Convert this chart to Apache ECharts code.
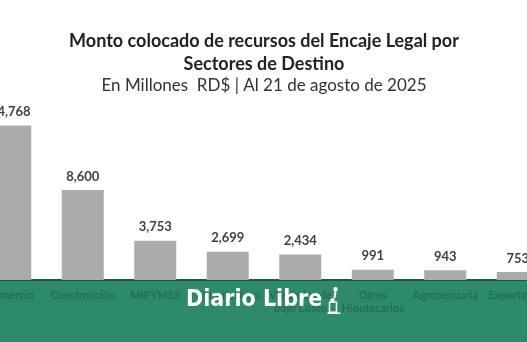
<!DOCTYPE html>
<html><head><meta charset="utf-8">
<script src="https://cdn.jsdelivr.net/npm/echarts@6/dist/echarts.min.js"></script>
<style>html,body{margin:0;padding:0;background:#fff;overflow:hidden;width:527px;height:342px;position:relative}
#c{width:580px;height:342px;position:absolute;left:-26px;top:0}</style>
</head><body><div id="c"></div>
<script>
const categories = ['Comercio','Construcción','MIPYMES','Manufactura','Viviendas de\nBajo Costo','Otros\nHipotecarios','Agropecuaria','Exportación'];
const values = [14768, 8600, 3753, 2699, 2434, 991, 943, 753];
const titleText = 'Monto colocado de recursos del Encaje Legal por\nSectores de Destino';
const subtitleText = 'En Millones  RD$ | Al 21 de agosto de 2025';
const logoText = 'Diario Libre';

const OFF = 26; // page-to-div x offset
const chart = echarts.init(document.getElementById('c'));
chart.setOption({
  animation: false,
  backgroundColor: '#fff',
  title: {
    left: 'center', top: 25, itemGap: 0,
    text: titleText,
    textStyle: {fontFamily: 'Lato', fontWeight: 'bold', fontSize: 18, color: '#222', lineHeight: 23},
    subtext: subtitleText,
    subtextStyle: {fontFamily: 'Lato', fontSize: 17, color: '#333', lineHeight: 20}
  },
  grid: {left: 0, right: 0, top: 123, bottom: 62, containLabel: false},
  xAxis: {
    type: 'category', data: categories,
    axisLine: {lineStyle: {color: '#1d5a45', width: 2}},
    axisTick: {show: false},
    axisLabel: {margin: 9, interval: 0, fontFamily: 'Lato', fontWeight: 'bold', fontSize: 11, color: '#226f51', lineHeight: 13}
  },
  yAxis: {type: 'value', min: 0, max: 15000, show: false, splitLine: {show: false}},
  graphic: [
    {type: 'rect', z: -10, silent: true, shape: {x: 0, y: 281, width: 580, height: 61}, style: {fill: '#2e8b6a'}},
    {type: 'text', z: 100, left: 186 + OFF, top: 289, style: {text: logoText, fill: '#fff', font: 'bold 23px "DejaVu Sans Condensed", "DejaVu Sans", sans-serif'}},
    {type: 'group', z: 100, left: 325 + OFF, top: 287, children: [
      {type: 'circle', shape: {cx: 8, cy: 3, r: 2.2}, style: {fill: '#fff'}},
      {type: 'line', shape: {x1: 8, y1: 5, x2: 7, y2: 12}, style: {stroke: '#fff', lineWidth: 2}},
      {type: 'circle', shape: {cx: 5, cy: 14, r: 2.2}, style: {fill: '#fff'}},
      {type: 'rect', shape: {x: 2, y: 16, width: 7, height: 10}, style: {fill: 'none', stroke: '#fff', lineWidth: 1.5}},
      {type: 'line', shape: {x1: 0, y1: 27, x2: 13, y2: 27}, style: {stroke: '#fff', lineWidth: 1.5}}
    ]}
  ],
  series: [{
    type: 'bar', data: values, barWidth: 42,
    itemStyle: {color: '#ababab'},
    label: {show: true, position: 'top', distance: 7, fontFamily: 'Lato', fontWeight: 'bold', fontSize: 13, color: '#404040',
      formatter: p => p.value.toLocaleString('en-US')}
  }]
});
</script></body></html>
